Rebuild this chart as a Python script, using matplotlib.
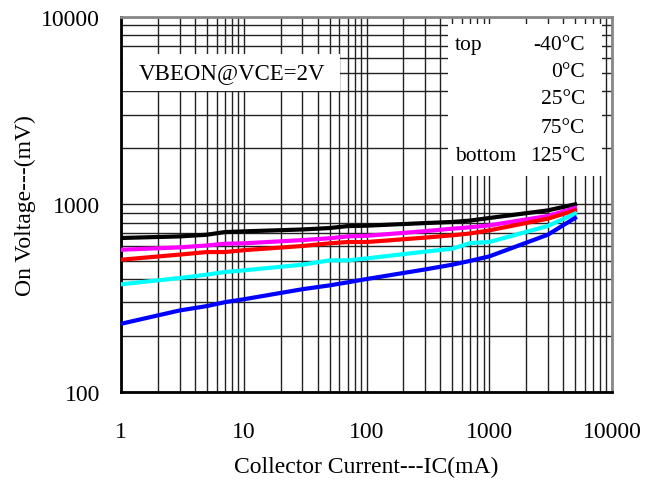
import matplotlib.pyplot as plt
from matplotlib.patches import Rectangle

plt.rcParams['font.family'] = ['Liberation Serif', 'DejaVu Serif']

ic = [1, 3, 5, 7, 10, 30, 50, 70, 100, 300, 500, 700, 1000, 3000, 5000]
v_m40 = [662, 675, 689, 712, 718, 735, 748, 766, 770, 795, 806, 820, 846, 929, 1000]
v_0 = [573, 590, 604, 617, 620, 645, 660, 675, 680, 720, 742, 755, 773, 867, 956]
v_25 = [507, 540, 557, 557, 570, 600, 620, 630, 630, 665, 684, 700, 727, 839, 929]
v_75 = [375, 405, 422, 436, 445, 477, 503, 503, 515, 560, 580, 622, 630, 767, 892]
v_125 = [231, 272, 287, 301, 312, 353, 370, 384, 400, 450, 477, 500, 528, 689, 846]

temps = ['-40°C', '0°C', '25°C', '75°C', '125°C']

fig = plt.figure(figsize=(6.51, 4.81), dpi=100)
ax = fig.add_axes([0.186, 0.183, 0.754, 0.780])

ax.plot(ic, v_m40, color='black', lw=3, zorder=3)
ax.plot(ic, v_0, color='#ff00ff', lw=3, zorder=3)
ax.plot(ic, v_25, color='#ff0000', lw=3, zorder=3)
ax.plot(ic, v_75, color='#00ffff', lw=3, zorder=3)
ax.plot(ic, v_125, color='#0000ff', lw=3, zorder=3)

ax.set_xscale('log')
ax.set_yscale('log')
ax.set_xlim(1, 10000)
ax.set_ylim(100, 10000)
ax.set_xticks([1, 10, 100, 1000, 10000])
ax.set_xticklabels(['1', '10', '100', '1000', '10000'])
ax.set_yticks([100, 1000, 10000])
ax.set_yticklabels(['100', '1000', '10000'])
ax.set_axisbelow(True)
ax.grid(True, which='both', color='#222222', lw=1)
ax.tick_params(which='both', length=0)
ax.tick_params(axis='x', pad=21, labelsize=17)
ax.tick_params(axis='y', pad=15, labelsize=17)

for s in ['left', 'bottom']:
    ax.spines[s].set_linewidth(2)
for s in ['top', 'right']:
    ax.spines[s].set_color('#888888')
    ax.spines[s].set_linewidth(2)

ax.set_xlabel('Collector Current---IC(mA)', fontsize=17, labelpad=10)
ax.set_ylabel('On Voltage---(mV)', fontsize=17, labelpad=4)

# white boxes over the grid
ax.add_patch(Rectangle((0.666, 0.576), 0.314, 0.405, transform=ax.transAxes,
                       facecolor='white', edgecolor='none', zorder=1))
ax.add_patch(Rectangle((0.004, 0.803), 0.442, 0.098, transform=ax.transAxes,
                       facecolor='white', edgecolor='none', zorder=1))

ax.text(0.225, 0.852, 'VBEON@VCE=2V', transform=ax.transAxes, fontsize=16.5,
        ha='center', va='center', zorder=4)

rows = [0.925, 0.853, 0.781, 0.706, 0.629]
ax.text(0.68, rows[0], 'top', transform=ax.transAxes, fontsize=15.5, va='center', zorder=4)
ax.text(0.68, rows[4], 'bottom', transform=ax.transAxes, fontsize=15.5, va='center', zorder=4)
for t, r in zip(temps, rows):
    ax.text(0.945, r, t, transform=ax.transAxes, fontsize=15.5, ha='right', va='center', zorder=4)

fig.savefig('out.png', dpi=100)
